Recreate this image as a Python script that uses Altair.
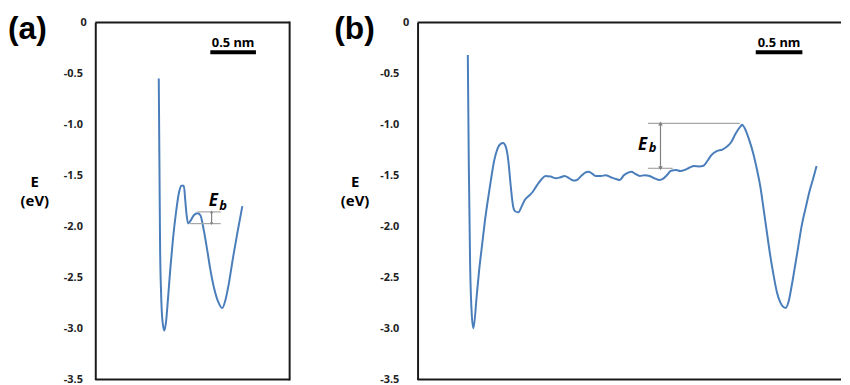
import altair as alt
import pandas as pd

# ---------------- data (x in nm, E in eV) ----------------
# Panel (a) energy profile
a_x = [0.696, 0.703, 0.710, 0.721, 0.736, 0.757, 0.775, 0.797, 0.822, 0.851,
       0.884, 0.917, 0.942, 0.971, 0.986, 1.000, 1.018, 1.043, 1.080, 1.120,
       1.152, 1.188, 1.225, 1.261, 1.304, 1.348, 1.391, 1.427, 1.464, 1.511,
       1.558, 1.612]
a_E = [-0.55, -1.35, -2.16, -2.64, -2.92, -3.02, -2.94, -2.71, -2.42, -2.13,
       -1.87, -1.67, -1.60, -1.60, -1.74, -1.88, -1.97, -1.945, -1.89, -1.87,
       -1.89, -2.03, -2.22, -2.42, -2.61, -2.74, -2.80, -2.72, -2.56, -2.30,
       -2.06, -1.80]

# Panel (b) energy profile
b_x = [0.539, 0.550, 0.564, 0.582, 0.599, 0.635, 0.662, 0.691, 0.720, 0.752,
       0.787, 0.823, 0.858, 0.894, 0.918, 0.947, 0.975, 1.000, 1.025, 1.046,
       1.082, 1.117, 1.152, 1.195, 1.238, 1.284, 1.330, 1.372, 1.426, 1.486,
       1.532, 1.578, 1.628, 1.674, 1.709, 1.755, 1.798, 1.833, 1.869, 1.911,
       1.968, 2.018, 2.074, 2.135, 2.170, 2.213, 2.259, 2.294, 2.337, 2.383,
       2.436, 2.489, 2.543, 2.596, 2.631, 2.677, 2.720, 2.773, 2.819, 2.862,
       2.915, 2.968, 3.021, 3.067, 3.110, 3.152, 3.209, 3.270, 3.323, 3.365,
       3.411, 3.465, 3.482, 3.507, 3.553, 3.606, 3.642, 3.677, 3.713, 3.748,
       3.784, 3.820, 3.855, 3.890, 3.926, 3.950, 3.979, 4.014, 4.050, 4.085,
       4.120, 4.167, 4.209, 4.245, 4.280]
b_E = [-0.32, -1.414, -2.385, -2.871, -3.00, -2.676, -2.417, -2.19, -1.964, -1.754,
       -1.544, -1.350, -1.236, -1.188, -1.181, -1.220, -1.366, -1.608, -1.803, -1.851,
       -1.861, -1.803, -1.738, -1.699, -1.657, -1.592, -1.537, -1.505, -1.511, -1.528,
       -1.518, -1.505, -1.528, -1.550, -1.544, -1.505, -1.472, -1.463, -1.479, -1.505,
       -1.505, -1.498, -1.518, -1.537, -1.544, -1.498, -1.472, -1.463, -1.485, -1.505,
       -1.498, -1.505, -1.528, -1.544, -1.534, -1.495, -1.453, -1.447, -1.456, -1.447,
       -1.424, -1.408, -1.411, -1.405, -1.356, -1.301, -1.262, -1.246, -1.214, -1.172,
       -1.091, -1.019, -1.003, -1.032, -1.139, -1.301, -1.447, -1.608, -1.835, -2.061,
       -2.288, -2.482, -2.644, -2.741, -2.790, -2.799, -2.741, -2.579, -2.385, -2.191,
       -1.997, -1.803, -1.641, -1.528, -1.408]

y_ticks = [0, -0.5, -1.0, -1.5, -2.0, -2.5, -3.0, -3.5]

# Eb reference levels: [x_start, x_end, E]
a_eb_x1 = [1.12, 1.038]
a_eb_x2 = [1.375, 1.375]
a_eb_E = [-1.857, -1.972]
a_arrow_x = 1.275

b_eb_x1 = [2.471, 2.471]
b_eb_x2 = [3.457, 2.737]
b_eb_E = [-0.99, -1.43]
b_arrow_x = 2.606

# scale bars (0.5 nm)
scale_len = 0.5
a_bar_x = 1.261
b_bar_x = 3.628
bar_E = -0.291
bar_text_E = -0.243

# Eb label anchors
a_lbl = {"Ex": 1.245, "EE": -1.803, "bx": 1.359, "bE": -1.842}
b_lbl = {"Ex": 2.365, "EE": -1.246, "bx": 2.479, "bE": -1.269}

# ---------------- styling ----------------
LINE = "#4A7EBB"
GRAY = "#A6A6A6"
ARROW = "#808080"
FRAME = "#1a1a1a"
FONT = "Noto Sans"
H = 360
A_W, B_W = 196, 427
A_DOM = [0, A_W / 92.0]
B_DOM = [0, B_W / 94.0]

label_expr = "datum.value == 0 ? '0' : '-' + format(-datum.value, '.1f')"


def X(domain):
    return alt.X("x:Q", scale=alt.Scale(domain=domain, nice=False, zero=False), axis=None)


def Y(axis=alt.Undefined):
    return alt.Y("E:Q", scale=alt.Scale(domain=[-3.5, 0], nice=False, zero=False), axis=axis)


def y_axis(pad):
    return alt.Axis(values=y_ticks, labelExpr=label_expr, ticks=False, grid=False,
                    domain=True, domainColor=FRAME, domainWidth=2,
                    labelPadding={"condition": {"test": "datum.value == 0", "value": 9}, "value": pad},
                    title=None, labelFont=FONT, labelFontSize=11, labelFontWeight="bold",
                    labelColor="#222222", labelOverlap=False, orient="left")


def panel(xs, Es, dom, w, eb_x1, eb_x2, eb_E, arrow_x, bar_x, lbl, tag, tag_x,
          e_x, pad, framed, e_size, b_size, head):
    curve = pd.DataFrame({"x": xs, "E": Es})
    line = alt.Chart(curve).mark_line(color=LINE, strokeWidth=2, interpolate="monotone").encode(
        x=X(dom), y=Y(y_axis(pad)))
    ebdf = pd.DataFrame({"x": eb_x1, "x2": eb_x2, "E": eb_E})
    eb = alt.Chart(ebdf).mark_rule(color=GRAY, strokeWidth=1.2).encode(
        x=X(dom), x2="x2:Q", y=Y())
    arr = pd.DataFrame({"x": [arrow_x], "E": [max(eb_E)], "E2": [min(eb_E)]})
    shaft = alt.Chart(arr).mark_rule(color=ARROW, strokeWidth=1.2).encode(
        x=X(dom), y=Y(), y2="E2:Q")
    heads_df = pd.DataFrame({"x": [arrow_x, arrow_x], "E": [max(eb_E), min(eb_E)],
                             "s": ["triangle-up", "triangle-down"]})
    heads = alt.Chart(heads_df).mark_point(filled=True, color=ARROW, opacity=1, size=head).encode(
        x=X(dom), y=Y(), shape=alt.Shape("s:N", scale=None))
    bar = alt.Chart(pd.DataFrame({"x": [bar_x], "x2": [bar_x + scale_len], "E": [bar_E]})).mark_rule(
        color="black", strokeWidth=4).encode(x=X(dom), x2="x2:Q", y=Y())
    bar_t = alt.Chart(pd.DataFrame({"x": [bar_x + scale_len / 2], "E": [bar_text_E], "t": ["0.5 nm"]})).mark_text(
        font=FONT, fontSize=13, fontWeight="bold", color="black", baseline="alphabetic", align="center").encode(
        x=X(dom), y=Y(), text="t:N")
    e_t = alt.Chart(pd.DataFrame({"x": [lbl["Ex"]], "E": [lbl["EE"]], "t": ["E"]})).mark_text(
        font="Open Sans", fontSize=e_size, fontWeight="bold", fontStyle="italic", color="black",
        align="left", baseline="alphabetic").encode(x=X(dom), y=Y(), text="t:N")
    b_t = alt.Chart(pd.DataFrame({"x": [lbl["bx"]], "E": [lbl["bE"]], "t": ["b"]})).mark_text(
        font="Open Sans", fontSize=b_size, fontWeight="bold", fontStyle="italic", color="black",
        align="left", baseline="alphabetic").encode(x=X(dom), y=Y(), text="t:N")
    tag_t = alt.Chart(pd.DataFrame({"t": [tag]})).mark_text(
        font="Liberation Sans", fontSize=32, fontWeight="bold", color="black", align="left",
        baseline="alphabetic").encode(x=alt.value(tag_x), y=alt.value(16.5), text="t:N")
    unit_lab = alt.Chart(pd.DataFrame({"t": [["E", "(eV)"]]})).mark_text(
        font=FONT, fontSize=15, fontWeight="bold", color="black", align="center",
        baseline="alphabetic", lineHeight=20).encode(
        x=alt.value(e_x), y=alt.value(165.5), text="t")
    one = pd.DataFrame({"k": [0]})
    top = alt.Chart(one).mark_rule(color=FRAME, strokeWidth=2).encode(
        x=alt.value(0), x2=alt.value(w), y=alt.value(0))
    bottom = alt.Chart(one).mark_rule(color=FRAME, strokeWidth=2).encode(
        x=alt.value(0), x2=alt.value(w), y=alt.value(H))
    layers = [line, eb, shaft, heads, bar, bar_t, e_t, b_t, tag_t, unit_lab, top, bottom]
    if framed:
        right = alt.Chart(one).mark_rule(color=FRAME, strokeWidth=2).encode(
            x=alt.value(w), y=alt.value(-1), y2=alt.value(H + 1))
        layers.append(right)
    return alt.layer(*layers).properties(width=w, height=H)


pa = panel(a_x, a_E, A_DOM, A_W, a_eb_x1, a_eb_x2, a_eb_E, a_arrow_x, a_bar_x, a_lbl,
           "(a)", -88, -61, 13, True, 17, 13, 10)
pb = panel(b_x, b_E, B_DOM, B_W, b_eb_x1, b_eb_x2, b_eb_E, b_arrow_x, b_bar_x, b_lbl,
           "(b)", -84, -63, 19, False, 17, 13, 22)

chart = alt.hconcat(pa, pb, spacing=44).properties(
    padding={"left": 0, "top": 3, "right": 0, "bottom": 0}
).configure(background="white").configure_view(stroke=None)

chart.save("out.html", embed_options={"renderer": "svg", "actions": False})
